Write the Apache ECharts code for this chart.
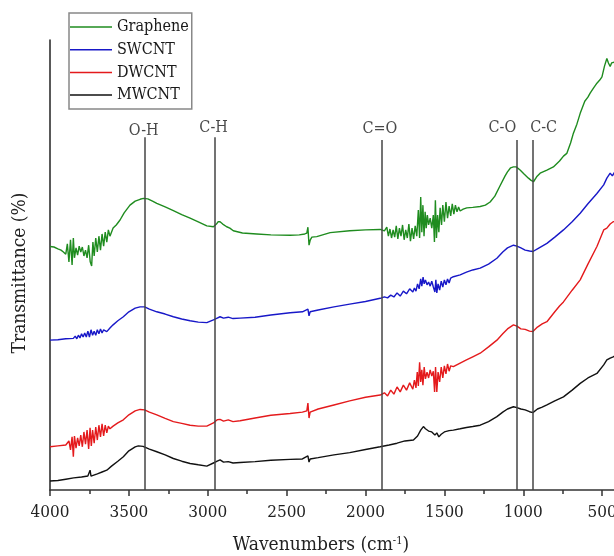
<!DOCTYPE html>
<html>
<head>
<meta charset="utf-8">
<script src="https://cdn.jsdelivr.net/npm/echarts@6/dist/echarts.min.js"></script>
<style>html,body{margin:0;padding:0;background:#fff}#c{width:614px;height:556px}</style>
</head>
<body>
<div id="c"></div>
<script>
var seriesNames = ['Graphene', 'SWCNT', 'DWCNT', 'MWCNT'];
var xTicks = [500, 1000, 1500, 2000, 2500, 3000, 3500, 4000];

var graphene = [[4000,54.1],[3975,54.0],[3950,53.6],[3930,53.3],[3915,52.9],[3900,52.4],[3890,54.7],[3880,50.7],[3870,55.6],[3860,50.0],[3852,56.0],[3845,51.6],[3835,53.8],[3825,52.2],[3815,54.2],[3805,52.9],[3795,54.0],[3785,52.0],[3775,53.3],[3765,51.6],[3755,54.4],[3745,50.7],[3736,49.8],[3728,55.1],[3720,52.0],[3710,56.0],[3700,52.9],[3690,56.4],[3680,53.3],[3670,56.9],[3660,54.2],[3650,57.3],[3640,55.1],[3630,57.8],[3620,56.4],[3600,58.2],[3580,58.9],[3556,60.0],[3530,61.6],[3493,63.3],[3460,64.2],[3429,64.6],[3408,64.8],[3380,64.7],[3350,64.2],[3323,63.7],[3270,62.9],[3218,62.1],[3165,61.2],[3112,60.4],[3060,59.6],[3006,58.7],[2964,58.5],[2945,59.1],[2935,59.6],[2922,59.6],[2905,59.1],[2880,58.5],[2860,58.2],[2838,57.6],[2780,57.1],[2689,56.9],[2600,56.7],[2478,56.6],[2420,56.7],[2385,56.9],[2372,57.1],[2365,58.4],[2358,54.4],[2350,55.6],[2340,56.2],[2309,56.3],[2224,57.2],[2100,57.6],[2000,57.8],[1907,57.9],[1880,57.6],[1865,58.4],[1855,56.4],[1845,58.0],[1835,56.0],[1825,57.8],[1815,56.2],[1805,58.7],[1795,55.8],[1785,58.2],[1775,56.4],[1765,58.9],[1755,55.6],[1745,57.8],[1735,56.0],[1725,59.1],[1715,55.3],[1705,58.2],[1695,55.8],[1685,58.7],[1675,56.4],[1665,62.2],[1657,56.0],[1650,65.1],[1643,57.3],[1636,63.3],[1629,56.4],[1622,61.8],[1615,58.2],[1608,61.1],[1600,58.9],[1590,60.4],[1580,58.2],[1570,61.1],[1563,55.1],[1557,64.4],[1550,56.0],[1543,61.1],[1535,57.3],[1527,62.7],[1518,58.9],[1510,63.3],[1500,59.6],[1490,64.0],[1480,60.4],[1470,63.1],[1460,60.9],[1450,63.6],[1440,61.3],[1430,63.3],[1420,61.8],[1410,62.9],[1400,62.0],[1381,62.4],[1358,62.7],[1320,62.8],[1273,63.0],[1240,63.3],[1210,64.0],[1180,65.3],[1147,67.6],[1115,69.8],[1100,70.7],[1080,71.6],[1062,71.8],[1045,71.8],[1020,71.1],[995,70.2],[967,69.3],[950,68.8],[935,68.5],[915,69.6],[893,70.4],[850,71.1],[809,71.8],[770,73.1],[745,74.2],[724,74.8],[700,77.1],[682,79.3],[660,81.3],[639,83.7],[610,86.4],[590,87.3],[576,88.2],[555,89.3],[533,90.4],[515,91.1],[501,91.8],[485,94.2],[470,95.9],[460,94.9],[449,94.1],[440,94.9],[430,94.7],[420,95.1],[400,95.1]];

var swcnt = [[4000,33.3],[3950,33.4],[3900,33.6],[3852,33.7],[3840,34.2],[3830,33.6],[3820,34.4],[3810,33.8],[3800,34.7],[3790,34.0],[3780,34.9],[3770,34.0],[3760,35.3],[3750,34.0],[3740,35.6],[3730,34.4],[3720,35.3],[3710,34.4],[3700,35.6],[3690,34.7],[3680,35.8],[3670,34.9],[3660,35.6],[3640,35.2],[3620,36.0],[3600,36.7],[3570,37.6],[3535,38.5],[3500,39.6],[3460,40.4],[3429,40.7],[3400,40.7],[3370,40.2],[3323,39.6],[3270,39.1],[3218,38.5],[3165,38.0],[3112,37.6],[3060,37.3],[3006,37.2],[2964,37.8],[2940,38.2],[2922,38.5],[2900,38.2],[2870,38.4],[2840,38.1],[2795,38.2],[2700,38.4],[2600,38.9],[2478,39.4],[2400,39.6],[2365,40.2],[2358,38.7],[2351,39.6],[2300,40.0],[2200,40.7],[2100,41.3],[2000,41.9],[1907,42.6],[1880,42.9],[1860,42.7],[1840,43.3],[1820,42.9],[1800,43.8],[1780,43.1],[1760,44.2],[1740,43.6],[1720,44.7],[1700,44.0],[1690,44.9],[1680,44.2],[1670,45.8],[1660,44.7],[1650,46.9],[1643,45.3],[1635,47.3],[1628,45.8],[1620,46.7],[1610,45.6],[1600,46.2],[1590,45.3],[1580,46.4],[1570,45.1],[1560,44.0],[1554,46.7],[1548,43.8],[1540,45.8],[1530,44.4],[1520,46.4],[1510,45.1],[1500,46.7],[1490,45.6],[1480,46.9],[1470,46.0],[1460,47.1],[1443,47.4],[1400,47.8],[1360,48.4],[1320,48.9],[1273,49.3],[1220,50.2],[1167,51.5],[1130,52.9],[1100,53.8],[1062,54.4],[1040,54.2],[1015,53.8],[988,53.3],[960,53.1],[939,53.0],[910,53.6],[880,54.2],[850,54.8],[800,56.2],[745,57.8],[690,59.6],[639,61.5],[590,63.6],[533,65.9],[490,67.8],[470,69.3],[449,70.4],[435,69.8],[420,70.7],[400,71.1]];

var dwcnt = [[4000,9.6],[3950,9.8],[3900,10.0],[3880,10.9],[3870,8.9],[3860,11.8],[3852,7.4],[3845,12.0],[3835,9.3],[3825,11.6],[3815,9.8],[3805,12.2],[3795,9.6],[3785,12.9],[3775,10.2],[3765,13.3],[3755,9.1],[3746,13.8],[3738,9.8],[3730,13.3],[3720,10.4],[3710,14.0],[3700,11.1],[3690,14.4],[3680,11.8],[3670,14.7],[3660,12.0],[3650,14.4],[3640,12.7],[3630,14.2],[3620,13.6],[3600,14.2],[3570,14.9],[3535,15.6],[3500,16.7],[3460,17.6],[3429,17.9],[3400,17.8],[3370,17.3],[3323,16.7],[3270,15.9],[3218,15.2],[3165,14.8],[3112,14.4],[3060,14.2],[3006,14.2],[2964,14.9],[2940,15.6],[2922,15.7],[2900,15.3],[2870,15.6],[2840,15.2],[2795,15.4],[2700,16.0],[2600,16.6],[2478,17.0],[2400,17.3],[2372,17.6],[2365,19.3],[2358,16.0],[2351,17.3],[2300,18.0],[2200,18.9],[2100,19.8],[2000,20.6],[1907,21.1],[1880,21.6],[1860,20.9],[1840,22.2],[1820,21.3],[1800,22.9],[1780,21.8],[1760,23.3],[1740,22.2],[1720,23.8],[1700,22.4],[1690,24.4],[1680,22.7],[1672,26.2],[1665,23.1],[1657,28.4],[1650,24.0],[1643,26.7],[1636,23.3],[1628,27.3],[1620,24.7],[1610,26.2],[1600,24.9],[1590,26.7],[1580,25.3],[1570,26.4],[1562,21.8],[1556,27.3],[1548,21.8],[1540,26.2],[1530,24.0],[1520,27.3],[1510,24.9],[1500,27.6],[1490,25.8],[1480,28.0],[1470,26.4],[1460,27.6],[1443,27.4],[1400,28.2],[1360,28.9],[1320,29.6],[1273,30.4],[1220,31.8],[1167,33.3],[1130,34.7],[1100,35.8],[1062,36.7],[1040,36.4],[1015,35.8],[988,35.7],[960,35.3],[939,35.2],[910,36.2],[880,36.9],[850,37.4],[800,39.6],[770,40.9],[745,41.8],[690,44.4],[639,46.7],[590,50.2],[533,54.1],[490,57.8],[470,58.2],[449,59.1],[430,59.6],[400,59.8]];

var mwcnt = [[4000,2.0],[3950,2.1],[3900,2.4],[3850,2.7],[3800,2.9],[3760,3.1],[3746,4.4],[3740,3.1],[3700,3.6],[3670,4.0],[3640,4.4],[3610,5.3],[3570,6.4],[3535,7.4],[3500,8.7],[3460,9.6],[3440,9.8],[3410,9.7],[3370,9.1],[3323,8.5],[3270,7.8],[3218,7.0],[3165,6.4],[3112,5.9],[3060,5.6],[3006,5.3],[2964,6.0],[2940,6.4],[2922,6.7],[2900,6.2],[2870,6.3],[2840,6.0],[2795,6.1],[2700,6.3],[2600,6.6],[2478,6.8],[2400,6.9],[2365,7.6],[2358,6.2],[2351,6.9],[2300,7.2],[2200,7.8],[2100,8.3],[2000,9.0],[1907,9.6],[1850,10.0],[1800,10.4],[1750,10.9],[1696,11.1],[1670,12.0],[1650,13.3],[1633,14.1],[1620,13.6],[1600,13.1],[1580,12.9],[1560,12.2],[1548,12.7],[1535,11.8],[1520,12.4],[1500,12.9],[1470,13.2],[1443,13.3],[1400,13.6],[1360,13.9],[1320,14.1],[1273,14.4],[1220,15.2],[1167,16.3],[1130,17.3],[1100,18.0],[1062,18.5],[1040,18.3],[1015,18.0],[988,17.8],[960,17.4],[939,17.2],[910,18.0],[880,18.4],[850,18.9],[800,19.8],[745,20.7],[690,22.2],[639,23.7],[590,24.9],[533,25.9],[490,27.8],[470,28.9],[449,29.3],[430,29.6],[400,30.2]];

var bandNames = ['O-H', 'C-H', 'C=O', 'C-O', 'C-C'];
var bandWaves = [3400, 2955, 1900, 1040, 940];
var bandTops = [78.4, 78.4, 77.8, 77.8, 77.8];
var bandLabelPos = [[3406, 79.8], [2963, 80.4], [1909, 80.2], [1132, 80.4], [871, 80.4]];

var colors = ['#1f8c1f', '#1818c8', '#e41a1c', '#111111'];
var serif = '"DejaVu Serif Condensed", "DejaVu Serif", serif';

var chart = echarts.init(document.getElementById('c'), null, {renderer: 'canvas'});

var dataList = [graphene, swcnt, dwcnt, mwcnt];
var series = dataList.map(function (d, i) {
  return {
    name: seriesNames[i], type: 'line', data: d, showSymbol: false, symbol: 'none',
    lineStyle: {color: colors[i], width: 1.4}, itemStyle: {color: colors[i]},
    z: 3, animation: false
  };
});

series.push({
  name: 'bands', type: 'line', data: [], showSymbol: false, animation: false,
  markLine: {
    silent: true, symbol: ['none', 'none'], animation: false,
    lineStyle: {color: '#444', width: 1.5, type: 'solid'},
    label: {show: false},
    data: bandWaves.map(function (w, i) {
      return [{coord: [w, bandTops[i]]}, {coord: [w, 0]}];
    })
  }
});

series.push({
  name: 'bandLabels', type: 'scatter', symbolSize: 0, animation: false, silent: true,
  data: bandLabelPos.map(function (p, i) {
    return {value: p, name: bandNames[i]};
  }),
  label: {
    show: true, position: 'inside', color: '#1a1a1a', fontSize: 16,
    fontFamily: serif,
    formatter: function (p) { return p.name; }
  }
});

chart.setOption({
  animation: false,
  backgroundColor: '#fff',
  grid: {left: 50, right: -67, top: 40, bottom: 66, containLabel: false, outerBoundsMode: 'none'},
  xAxis: {
    type: 'value', inverse: true, min: 0, max: 4000, interval: 500,
    axisLine: {show: true, onZero: false, lineStyle: {color: '#333', width: 1.5}},
    axisTick: {show: true, inside: false, length: 6, lineStyle: {color: '#333', width: 1.5}},
    minorTick: {show: true, splitNumber: 2, length: 4, lineStyle: {color: '#333', width: 1.5}},
    splitLine: {show: false},
    axisLabel: {show: true, margin: 14, color: '#222', fontSize: 17, fontFamily: serif,
      formatter: function (v) { return xTicks.indexOf(v) >= 0 ? String(v) : ''; }}
  },
  yAxis: {
    type: 'value', min: 0, max: 100,
    axisLine: {show: true, onZero: false, lineStyle: {color: '#222', width: 1.5}},
    axisTick: {show: false}, axisLabel: {show: false}, splitLine: {show: false}
  },
  legend: {
    data: seriesNames, orient: 'vertical', left: 69, top: 13,
    padding: [4, 3, 4, 1], itemGap: 2.7, itemWidth: 42, itemHeight: 1.5,
    icon: 'rect', itemStyle: {borderWidth: 0},
    borderColor: '#888', borderWidth: 1.5, backgroundColor: '#fff',
    textStyle: {fontFamily: serif, fontSize: 16, color: '#1a1a1a', lineHeight: 20, padding: [0, 0, 0, 0]},
    selectedMode: false
  },
  graphic: [
    {type: 'text', x: 321, y: 545, style: {
      text: '{a|Wavenumbers (cm}{s|-1}{a|)}', align: 'center', verticalAlign: 'middle',
      rich: {a: {fontFamily: serif, fontSize: 19, fill: '#222'}, s: {fontFamily: serif, fontSize: 11, fill: '#222', verticalAlign: 'top', padding: [0, 0, 8, 0]}}
    }},
    {type: 'text', x: 20, y: 273, rotation: Math.PI / 2, style: {
      text: 'Transmittance (%)', align: 'center', verticalAlign: 'middle',
      fontFamily: serif, fontSize: 19, fill: '#222'
    }}
  ],
  series: series
});
</script>
</body>
</html>
